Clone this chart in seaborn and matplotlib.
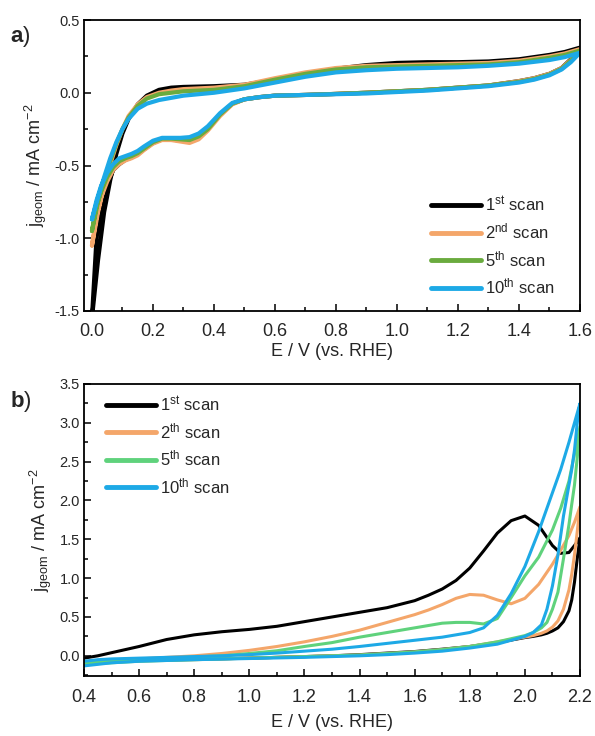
import numpy as np
import pandas as pd
import matplotlib
matplotlib.use("Agg")
import matplotlib.pyplot as plt
import seaborn as sns
from matplotlib.ticker import AutoMinorLocator, MultipleLocator, FormatStrFormatter

# ---------------- Panel a data ----------------
scans_a = ["1$^{\\mathrm{st}}$ scan", "2$^{\\mathrm{nd}}$ scan", "5$^{\\mathrm{th}}$ scan", "10$^{\\mathrm{th}}$ scan"]
colors_a = ["#000000", "#F4A66A", "#6AAB3E", "#1DA9E6"]

Ea_up = [0.0, 0.02, 0.04, 0.06, 0.08, 0.10, 0.12, 0.15, 0.18, 0.22, 0.26, 0.30, 0.40, 0.50,
         0.60, 0.70, 0.80, 0.90, 1.00, 1.10, 1.20, 1.30, 1.40, 1.50, 1.55, 1.60]
ja_up_1 = [-1.55, -1.15, -0.82, -0.6, -0.42, -0.28, -0.18, -0.08, -0.02, 0.02, 0.035, 0.04, 0.045, 0.055,
           0.09, 0.13, 0.165, 0.19, 0.205, 0.21, 0.21, 0.215, 0.23, 0.26, 0.28, 0.31]
ja_up_2 = [-1.05, -0.82, -0.64, -0.49, -0.36, -0.25, -0.16, -0.08, -0.03, 0.0, 0.015, 0.025, 0.035, 0.055,
           0.10, 0.14, 0.17, 0.185, 0.19, 0.195, 0.2, 0.205, 0.22, 0.25, 0.27, 0.30]
ja_up_5 = [-0.95, -0.75, -0.6, -0.47, -0.35, -0.25, -0.17, -0.09, -0.04, -0.01, 0.0, 0.01, 0.02, 0.045,
           0.09, 0.13, 0.16, 0.175, 0.18, 0.185, 0.19, 0.195, 0.21, 0.24, 0.26, 0.29]
ja_up_10 = [-0.87, -0.72, -0.58, -0.45, -0.34, -0.25, -0.18, -0.11, -0.075, -0.05, -0.035, -0.02, 0.0, 0.03,
            0.07, 0.11, 0.14, 0.155, 0.165, 0.17, 0.175, 0.185, 0.2, 0.225, 0.245, 0.275]

Ea_dn = [1.60, 1.57, 1.54, 1.50, 1.45, 1.40, 1.30, 1.20, 1.10, 1.00, 0.90, 0.80, 0.70, 0.60, 0.55,
         0.50, 0.46, 0.42, 0.38, 0.35, 0.32, 0.29, 0.26, 0.23, 0.20, 0.17, 0.15, 0.13, 0.11, 0.09,
         0.07, 0.05, 0.03, 0.015, 0.0]
ja_dn_1 = [0.31, 0.23, 0.17, 0.13, 0.10, 0.08, 0.05, 0.035, 0.02, 0.01, 0.0, -0.008, -0.015, -0.02, -0.03,
           -0.045, -0.075, -0.15, -0.25, -0.305, -0.335, -0.33, -0.32, -0.32, -0.345, -0.39, -0.42, -0.445,
           -0.46, -0.49, -0.53, -0.63, -0.78, -1.0, -1.55]
ja_dn_2 = [0.30, 0.225, 0.17, 0.13, 0.10, 0.08, 0.05, 0.035, 0.02, 0.01, 0.0, -0.008, -0.015, -0.02, -0.03,
           -0.045, -0.08, -0.16, -0.26, -0.32, -0.345, -0.335, -0.325, -0.325, -0.35, -0.395, -0.43, -0.45,
           -0.465, -0.49, -0.53, -0.61, -0.72, -0.85, -1.05]
ja_dn_5 = [0.29, 0.22, 0.165, 0.125, 0.095, 0.075, 0.05, 0.035, 0.02, 0.01, 0.0, -0.008, -0.015, -0.02, -0.03,
           -0.045, -0.075, -0.15, -0.25, -0.30, -0.325, -0.32, -0.315, -0.315, -0.34, -0.385, -0.415, -0.435,
           -0.45, -0.47, -0.51, -0.58, -0.68, -0.78, -0.95]
ja_dn_10 = [0.275, 0.21, 0.16, 0.12, 0.09, 0.07, 0.045, 0.03, 0.015, 0.005, -0.005, -0.01, -0.015, -0.02, -0.03,
            -0.045, -0.07, -0.14, -0.23, -0.28, -0.305, -0.31, -0.31, -0.31, -0.33, -0.37, -0.40, -0.42,
            -0.435, -0.45, -0.49, -0.55, -0.64, -0.74, -0.87]

# ---------------- Panel b data ----------------
scans_b = ["1$^{\\mathrm{st}}$ scan", "2$^{\\mathrm{th}}$ scan", "5$^{\\mathrm{th}}$ scan", "10$^{\\mathrm{th}}$ scan"]
colors_b = ["#000000", "#F4A66A", "#5FD27C", "#1DA9E6"]

Eb_up = [0.40, 0.45, 0.50, 0.60, 0.70, 0.80, 0.90, 1.00, 1.10, 1.20, 1.30, 1.40, 1.50, 1.60, 1.65,
         1.70, 1.75, 1.80, 1.85, 1.90, 1.95, 2.00, 2.05, 2.10, 2.13, 2.16, 2.18, 2.20]
jb_up_1 = [-0.03, 0.0, 0.04, 0.12, 0.21, 0.27, 0.31, 0.34, 0.38, 0.44, 0.50, 0.56, 0.62, 0.71, 0.78,
           0.86, 0.97, 1.13, 1.35, 1.58, 1.74, 1.80, 1.68, 1.42, 1.32, 1.33, 1.42, 1.52]
jb_up_2 = [-0.08, -0.07, -0.06, -0.04, -0.02, 0.0, 0.03, 0.07, 0.12, 0.18, 0.25, 0.33, 0.43, 0.53, 0.59,
           0.66, 0.74, 0.79, 0.78, 0.72, 0.67, 0.74, 0.92, 1.18, 1.36, 1.55, 1.72, 1.92]
jb_up_5 = [-0.10, -0.08, -0.07, -0.05, -0.03, -0.015, 0.0, 0.03, 0.065, 0.12, 0.17, 0.24, 0.30, 0.36, 0.39,
           0.42, 0.43, 0.43, 0.41, 0.48, 0.75, 1.03, 1.27, 1.62, 1.9, 2.25, 2.6, 2.95]
jb_up_10 = [-0.07, -0.05, -0.04, -0.03, -0.02, -0.01, 0.0, 0.015, 0.035, 0.06, 0.085, 0.12, 0.16, 0.20, 0.22,
            0.24, 0.27, 0.30, 0.36, 0.52, 0.80, 1.15, 1.60, 2.10, 2.40, 2.75, 3.0, 3.25]

Eb_dn = [2.20, 2.19, 2.18, 2.17, 2.16, 2.14, 2.12, 2.10, 2.08, 2.06, 2.03, 2.00, 1.90, 1.80, 1.70,
         1.60, 1.50, 1.40, 1.30, 1.20, 1.00, 0.80, 0.60, 0.50, 0.45, 0.40]
jb_dn_1 = [1.52, 1.25, 0.95, 0.72, 0.58, 0.44, 0.36, 0.32, 0.29, 0.27, 0.25, 0.235, 0.17, 0.12, 0.085,
           0.055, 0.035, 0.015, 0.0, -0.01, -0.03, -0.045, -0.06, -0.07, -0.085, -0.10]
jb_dn_2 = [1.92, 1.6, 1.3, 1.05, 0.85, 0.6, 0.45, 0.37, 0.32, 0.29, 0.26, 0.24, 0.18, 0.12, 0.08,
           0.05, 0.03, 0.01, 0.0, -0.01, -0.03, -0.05, -0.065, -0.08, -0.09, -0.11]
jb_dn_5 = [2.95, 2.55, 2.2, 1.95, 1.69, 1.25, 0.82, 0.6, 0.43, 0.36, 0.30, 0.26, 0.18, 0.12, 0.08,
           0.05, 0.03, 0.01, 0.0, -0.01, -0.03, -0.05, -0.07, -0.09, -0.10, -0.12]
jb_dn_10 = [3.25, 3.0, 2.65, 2.4, 2.2, 1.8, 1.3, 0.9, 0.6, 0.4, 0.3, 0.25, 0.15, 0.10, 0.06,
            0.035, 0.015, 0.0, -0.01, -0.02, -0.035, -0.05, -0.07, -0.09, -0.11, -0.13]

sns.set_style("ticks")
plt.rcParams["font.family"] = ["Liberation Sans", "DejaVu Sans"]
plt.rcParams["mathtext.fontset"] = "custom"
plt.rcParams["mathtext.rm"] = "Liberation Sans"
plt.rcParams["mathtext.it"] = "Liberation Sans:italic"
plt.rcParams["mathtext.bf"] = "Liberation Sans:bold"
plt.rcParams["axes.unicode_minus"] = False

fig = plt.figure(figsize=(5.95, 7.36), dpi=100)
W, H = 595, 736
ax_a = fig.add_axes([84 / W, 1 - 311 / H, 496 / W, 291 / H])
ax_b = fig.add_axes([84 / W, 1 - 676 / H, 496 / W, 292 / H])

up_a = [ja_up_1, ja_up_2, ja_up_5, ja_up_10]
dn_a = [ja_dn_1, ja_dn_2, ja_dn_5, ja_dn_10]
for lab, col, ju, jd in zip(scans_a, colors_a, up_a, dn_a):
    df = pd.DataFrame({"E": Ea_up + Ea_dn, "j": ju + jd})
    sns.lineplot(data=df, x="E", y="j", sort=False, estimator=None, color=col,
                 linewidth=3.0, label=lab, ax=ax_a)

up_b = [jb_up_1, jb_up_2, jb_up_5, jb_up_10]
dn_b = [jb_dn_1, jb_dn_2, jb_dn_5, jb_dn_10]
for lab, col, ju, jd in zip(scans_b, colors_b, up_b, dn_b):
    df = pd.DataFrame({"E": Eb_up + Eb_dn, "j": ju + jd})
    sns.lineplot(data=df, x="E", y="j", sort=False, estimator=None, color=col,
                 linewidth=2.2, label=lab, ax=ax_b)


def style(ax, xlim, ylim, xmaj, ymaj, xlabelpad):
    ax.set_xlim(*xlim)
    ax.set_ylim(*ylim)
    ax.xaxis.set_major_locator(MultipleLocator(xmaj))
    ax.yaxis.set_major_locator(MultipleLocator(ymaj))
    ax.xaxis.set_minor_locator(AutoMinorLocator(2))
    ax.yaxis.set_minor_locator(AutoMinorLocator(2))
    ax.xaxis.set_major_formatter(FormatStrFormatter("%.1f"))
    ax.yaxis.set_major_formatter(FormatStrFormatter("%.1f"))
    ax.tick_params(which="both", direction="in", top=False, right=False, color="black", width=1.1)
    ax.tick_params(which="major", length=5)
    ax.tick_params(which="minor", length=3)
    ax.tick_params(axis="x", labelsize=13, pad=9)
    ax.tick_params(axis="y", labelsize=10.5, pad=3)
    for s in ax.spines.values():
        s.set_color("black")
        s.set_linewidth(1.3)
        s.set_visible(True)
    ax.set_xlabel("E / V (vs. RHE)", fontsize=13, labelpad=xlabelpad)
    ax.set_ylabel("j$_{\\mathrm{geom}}$ / mA cm$^{-2}$", fontsize=13, labelpad=4)
    ax.grid(False)


style(ax_a, (-0.026, 1.6), (-1.5, 0.5), 0.2, 0.5, 2)
style(ax_b, (0.4, 2.2), (-0.26, 3.5), 0.2, 0.5, 6)

for ax, anchor in [(ax_a, (0.70, 0.40)), (ax_b, (0.045, 0.965))]:
    leg = ax.legend(loc="upper left", bbox_to_anchor=anchor, frameon=False, fontsize=12,
                    handlelength=3.0, handletextpad=0.2, labelspacing=0.45,
                    borderpad=0, borderaxespad=0)
    for h in leg.get_lines():
        h.set_linewidth(3.5)

fig.text(10 / W, 1 - 42 / H, "$\\mathbf{a}$)", fontsize=16, va="baseline")
fig.text(10 / W, 1 - 407 / H, "$\\mathbf{b}$)", fontsize=16, va="baseline")

fig.savefig("out.png", dpi=100)
